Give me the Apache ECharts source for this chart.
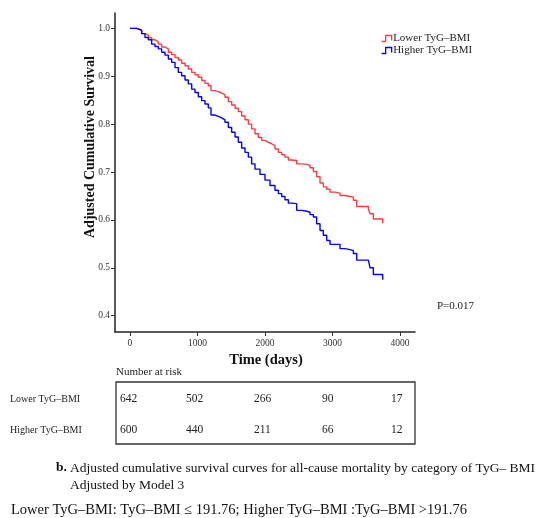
<!DOCTYPE html>
<html>
<head>
<meta charset="utf-8">
<script src="https://cdn.jsdelivr.net/npm/echarts@6/dist/echarts.min.js"></script>
<style>
  html, body { margin: 0; padding: 0; background: #fff; }
  #main { width: 544px; height: 518px; }
</style>
</head>
<body>
<div id="main"></div>
<script>
// adjusted survival (days, cumulative survival)
const lowerTime = [0, 99, 123, 173, 222, 272, 321, 370, 420, 469, 518, 568, 617, 667, 716, 765, 815, 864, 914, 963,
  1012, 1062, 1111, 1160, 1200, 1259, 1309, 1358, 1407, 1457, 1506, 1556, 1605, 1654, 1704, 1753, 1802, 1852, 1901, 1951,
  2000, 2049, 2099, 2148, 2198, 2247, 2296, 2346, 2395, 2469, 2543, 2617, 2667, 2716, 2765, 2815, 2864, 2914, 2963, 3037,
  3111, 3185, 3259, 3309, 3358, 3432, 3531, 3556, 3605, 3743]
const lowerSurv = [1.0, 1.0, 0.996, 0.989, 0.986, 0.981, 0.976, 0.972, 0.967, 0.961, 0.957, 0.950, 0.945, 0.939, 0.934, 0.927, 0.922, 0.915, 0.908, 0.903,
  0.898, 0.891, 0.885, 0.880, 0.870, 0.868, 0.865, 0.861, 0.856, 0.847, 0.840, 0.833, 0.826, 0.817, 0.809, 0.800, 0.790, 0.780, 0.772, 0.766,
  0.762, 0.759, 0.755, 0.748, 0.741, 0.736, 0.731, 0.725, 0.724, 0.717, 0.716, 0.714, 0.709, 0.701, 0.690, 0.677, 0.669, 0.664, 0.658, 0.656,
  0.651, 0.649, 0.648, 0.641, 0.628, 0.628, 0.623, 0.613, 0.602, 0.593]

const higherTime = [0, 99, 123, 173, 222, 272, 321, 370, 420, 469, 518, 568, 617, 667, 716, 765, 815, 864, 914, 963,
  1012, 1062, 1111, 1160, 1200, 1259, 1309, 1358, 1407, 1457, 1506, 1556, 1605, 1654, 1704, 1753, 1802, 1852, 1926, 2000,
  2074, 2148, 2198, 2247, 2296, 2346, 2395, 2469, 2543, 2617, 2667, 2716, 2765, 2815, 2864, 2914, 2963, 3037, 3111, 3185,
  3259, 3309, 3358, 3432, 3531, 3556, 3605, 3743]
const higherSurv = [1.0, 1.0, 0.996, 0.989, 0.981, 0.976, 0.967, 0.962, 0.957, 0.950, 0.944, 0.936, 0.929, 0.918, 0.908, 0.901, 0.892, 0.884, 0.873, 0.866,
  0.857, 0.849, 0.842, 0.834, 0.819, 0.816, 0.813, 0.809, 0.804, 0.793, 0.783, 0.773, 0.762, 0.750, 0.741, 0.731, 0.717, 0.706, 0.695, 0.683,
  0.672, 0.662, 0.655, 0.649, 0.642, 0.635, 0.634, 0.620, 0.618, 0.616, 0.611, 0.606, 0.592, 0.578, 0.568, 0.557, 0.549, 0.549, 0.540, 0.538,
  0.536, 0.530, 0.516, 0.516, 0.514, 0.500, 0.486, 0.475]

const groupNames = ['Lower TyG–BMI', 'Higher TyG–BMI']
const groupColors = ['#ff3b3b', '#0000ff']
const xTicks = [0, 1000, 2000, 3000, 4000]
const yTicks = [0.4, 0.5, 0.6, 0.7, 0.8, 0.9, 1.0]
const riskLower = [642, 502, 266, 90, 17]
const riskHigher = [600, 440, 211, 66, 12]
const pText = 'P=0.017'

const serif = '"Liberation Serif", "Times New Roman", serif'

const chart = echarts.init(document.getElementById('main'), null, { renderer: 'canvas' })

const zip = (xs, ys) => xs.map((x, i) => [x, ys[i]])

// number at risk table
const colX = [120, 186, 254, 322, 391]
const rowY = [399, 430]
const tableTexts = []
;[riskLower, riskHigher].forEach((row, r) => {
  tableTexts.push({
    type: 'text', x: 10, y: rowY[r],
    style: { text: groupNames[r], font: '10px ' + serif, fill: '#222', textVerticalAlign: 'middle' }
  })
  row.forEach((n, c) => {
    tableTexts.push({
      type: 'text', x: colX[c], y: rowY[r],
      style: { text: String(n), font: '11.5px ' + serif, fill: '#222', textVerticalAlign: 'middle' }
    })
  })
})

const option = {
  animation: false,
  backgroundColor: '#fff',
  grid: { left: 115, right: 129, top: 13, bottom: 186, containLabel: false, outerBoundsMode: 'none' },
  legend: {
    orient: 'vertical',
    left: 376,
    top: 28,
    itemWidth: 11,
    itemHeight: 6,
    itemGap: 1,
    icon: 'path://M0,6 L4,6 L4,0 L10,0 L10,5',
    textStyle: { fontFamily: serif, fontSize: 11, color: '#222', padding: [0, 0, 0, -4] },
    data: groupNames.map((name, i) => ({
      name: name,
      itemStyle: { color: 'rgba(0,0,0,0)', borderColor: groupColors[i], borderWidth: 1.3 }
    }))
  },
  xAxis: {
    type: 'value',
    min: -222,
    max: 4222,
    axisLine: { show: true, onZero: false, lineStyle: { color: '#222', width: 1.5 } },
    axisTick: { show: true, length: 4, customValues: xTicks, lineStyle: { color: '#333' } },
    axisLabel: { customValues: xTicks, formatter: v => String(v), fontFamily: serif, fontSize: 9.5, color: '#333', margin: 6 },
    splitLine: { show: false }
  },
  yAxis: {
    type: 'value',
    min: 0.366,
    max: 1.032,
    axisLine: { show: true, onZero: false, lineStyle: { color: '#222', width: 1.5 } },
    axisTick: { show: true, length: 4, customValues: yTicks, lineStyle: { color: '#333' } },
    axisLabel: {
      customValues: yTicks,
      formatter: v => v.toFixed(1),
      fontFamily: serif, fontSize: 9.5, color: '#333', margin: 5
    },
    splitLine: { show: false }
  },
  series: [
    {
      name: groupNames[0],
      type: 'line',
      step: 'end',
      showSymbol: false,
      color: groupColors[0],
      lineStyle: { width: 1.4 },
      data: zip(lowerTime, lowerSurv)
    },
    {
      name: groupNames[1],
      type: 'line',
      step: 'end',
      showSymbol: false,
      color: groupColors[1],
      lineStyle: { width: 1.4 },
      data: zip(higherTime, higherSurv)
    }
  ],
  graphic: [
    {
      type: 'text', x: 90, y: 147, rotation: Math.PI / 2,
      style: { text: 'Adjusted Cumulative Survival', font: 'bold 14px ' + serif, fill: '#111', textAlign: 'center', textVerticalAlign: 'middle' }
    },
    {
      type: 'text', x: 266, y: 360,
      style: { text: 'Time (days)', font: 'bold 14.5px ' + serif, fill: '#111', textAlign: 'center', textVerticalAlign: 'middle' }
    },
    {
      type: 'text', x: 437, y: 306,
      style: { text: pText, font: '11px ' + serif, fill: '#222', textVerticalAlign: 'middle' }
    },
    {
      type: 'text', x: 116, y: 372,
      style: { text: 'Number at risk', font: '11px ' + serif, fill: '#222', textVerticalAlign: 'middle' }
    },
    {
      type: 'rect', shape: { x: 116, y: 382, width: 299, height: 62 },
      style: { fill: 'none', stroke: '#333', lineWidth: 1.3 }
    },
    ...tableTexts,
    {
      type: 'text', x: 56, y: 468,
      style: { text: 'b.', font: 'bold 13.5px ' + serif, fill: '#111', textVerticalAlign: 'middle' }
    },
    {
      type: 'text', x: 70, y: 468,
      style: { text: 'Adjusted cumulative survival curves for all-cause mortality by category of TyG– BMI', font: '13.5px ' + serif, fill: '#111', textVerticalAlign: 'middle' }
    },
    {
      type: 'text', x: 70, y: 485,
      style: { text: 'Adjusted by Model 3', font: '13.5px ' + serif, fill: '#111', textVerticalAlign: 'middle' }
    },
    {
      type: 'text', x: 11, y: 510,
      style: { text: 'Lower TyG–BMI: TyG–BMI ≤ 191.76; Higher TyG–BMI :TyG–BMI >191.76', font: '14.5px ' + serif, fill: '#111', textVerticalAlign: 'middle' }
    }
  ]
}

chart.setOption(option)
</script>
</body>
</html>
